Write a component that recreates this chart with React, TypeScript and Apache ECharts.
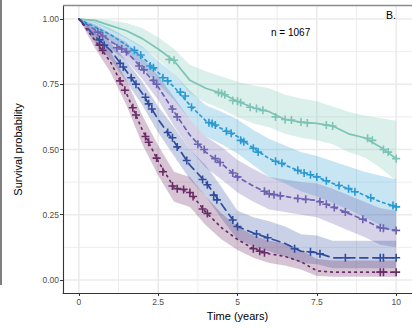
import React, { useEffect, useRef } from 'react';
import * as echarts from 'echarts';

const times = [0, 0.5, 1, 1.5, 2, 2.5, 3, 3.5, 4, 4.5, 5, 5.5, 6, 6.5, 7, 7.5, 8, 8.5, 9, 9.5, 10];

const survTeal = [1, 0.995, 0.975, 0.955, 0.925, 0.885, 0.84, 0.765, 0.735, 0.715, 0.685, 0.66, 0.645, 0.615, 0.605, 0.6, 0.59, 0.56, 0.545, 0.51, 0.465];
const lowerTeal = [1, 0.985, 0.955, 0.925, 0.89, 0.845, 0.79, 0.715, 0.68, 0.655, 0.625, 0.6, 0.585, 0.56, 0.545, 0.535, 0.52, 0.49, 0.47, 0.43, 0.38];
const upperTeal = [1, 1, 0.995, 0.985, 0.965, 0.93, 0.885, 0.825, 0.8, 0.78, 0.76, 0.745, 0.735, 0.71, 0.695, 0.685, 0.665, 0.645, 0.63, 0.62, 0.61];

const survLightBlue = [1, 0.97, 0.94, 0.9, 0.855, 0.795, 0.74, 0.67, 0.61, 0.58, 0.55, 0.505, 0.465, 0.44, 0.415, 0.395, 0.37, 0.35, 0.325, 0.3, 0.28];
const lowerLightBlue = [1, 0.955, 0.915, 0.865, 0.815, 0.75, 0.69, 0.615, 0.55, 0.52, 0.485, 0.44, 0.395, 0.37, 0.34, 0.32, 0.295, 0.27, 0.24, 0.21, 0.18];
const upperLightBlue = [1, 0.99, 0.965, 0.93, 0.895, 0.84, 0.79, 0.725, 0.67, 0.645, 0.615, 0.575, 0.54, 0.515, 0.49, 0.475, 0.455, 0.435, 0.415, 0.4, 0.385];

const survPurple = [1, 0.96, 0.915, 0.875, 0.81, 0.74, 0.645, 0.555, 0.49, 0.445, 0.395, 0.36, 0.33, 0.32, 0.31, 0.305, 0.28, 0.255, 0.23, 0.2, 0.19];
const lowerPurple = [1, 0.94, 0.885, 0.84, 0.77, 0.69, 0.59, 0.5, 0.43, 0.385, 0.335, 0.3, 0.27, 0.26, 0.25, 0.24, 0.215, 0.19, 0.165, 0.135, 0.125];
const upperPurple = [1, 0.98, 0.945, 0.91, 0.85, 0.785, 0.7, 0.615, 0.55, 0.51, 0.46, 0.425, 0.395, 0.385, 0.375, 0.37, 0.35, 0.325, 0.3, 0.275, 0.265];

const survDarkBlue = [1, 0.935, 0.88, 0.8, 0.715, 0.615, 0.53, 0.44, 0.375, 0.29, 0.205, 0.18, 0.16, 0.14, 0.11, 0.105, 0.085, 0.085, 0.085, 0.085, 0.085];
const lowerDarkBlue = [1, 0.91, 0.845, 0.76, 0.67, 0.565, 0.475, 0.385, 0.32, 0.235, 0.155, 0.13, 0.11, 0.09, 0.065, 0.06, 0.045, 0.045, 0.045, 0.045, 0.045];
const upperDarkBlue = [1, 0.96, 0.91, 0.84, 0.76, 0.665, 0.585, 0.5, 0.44, 0.355, 0.265, 0.24, 0.225, 0.205, 0.175, 0.17, 0.15, 0.15, 0.15, 0.15, 0.15];

const survPlum = [1, 0.92, 0.835, 0.715, 0.575, 0.455, 0.355, 0.335, 0.26, 0.2, 0.155, 0.12, 0.1, 0.09, 0.07, 0.035, 0.03, 0.03, 0.03, 0.03, 0.03];
const lowerPlum = [1, 0.89, 0.795, 0.67, 0.52, 0.4, 0.3, 0.28, 0.21, 0.155, 0.115, 0.085, 0.065, 0.055, 0.04, 0.015, 0.012, 0.012, 0.012, 0.012, 0.012];
const upperPlum = [1, 0.95, 0.875, 0.765, 0.63, 0.515, 0.415, 0.395, 0.32, 0.255, 0.205, 0.17, 0.15, 0.14, 0.115, 0.08, 0.075, 0.075, 0.075, 0.075, 0.075];

const censorTeal = [[2.85, 0.845], [3.0, 0.842], [4.4, 0.718], [4.5, 0.715], [4.6, 0.71], [4.85, 0.688], [5.0, 0.685], [5.1, 0.68], [5.4, 0.662], [5.6, 0.657], [5.8, 0.65], [6.2, 0.625], [6.5, 0.615], [6.7, 0.613], [7.0, 0.605], [7.2, 0.602], [7.8, 0.594], [8.0, 0.59], [9.1, 0.543], [9.25, 0.535], [9.6, 0.5], [9.75, 0.49], [10, 0.465]];
const censorLightBlue = [[1.75, 0.88], [1.95, 0.862], [2.25, 0.82], [2.35, 0.813], [2.65, 0.775], [2.8, 0.763], [3.2, 0.72], [3.35, 0.705], [3.55, 0.662], [4.1, 0.603], [4.2, 0.6], [4.3, 0.594], [4.65, 0.57], [4.8, 0.562], [5.1, 0.535], [5.2, 0.53], [5.5, 0.505], [5.65, 0.49], [6.2, 0.455], [6.4, 0.447], [6.9, 0.42], [7.1, 0.41], [7.3, 0.403], [7.5, 0.395], [7.8, 0.38], [8.2, 0.362], [8.5, 0.35], [8.7, 0.338], [9.2, 0.315], [9.9, 0.285], [10, 0.28]];
const censorPurple = [[0.6, 0.95], [0.75, 0.935], [1.2, 0.89], [1.35, 0.885], [1.5, 0.875], [1.9, 0.82], [2.05, 0.805], [2.35, 0.765], [2.45, 0.75], [2.95, 0.655], [3.1, 0.625], [3.75, 0.52], [3.95, 0.5], [4.3, 0.465], [4.45, 0.45], [4.85, 0.41], [5.0, 0.395], [5.85, 0.34], [6.0, 0.33], [6.15, 0.327], [6.35, 0.323], [6.9, 0.312], [7.15, 0.309], [7.6, 0.3], [7.8, 0.29], [8.05, 0.278], [8.4, 0.26], [8.95, 0.233], [9.5, 0.2], [9.6, 0.198], [10, 0.19]];
const censorDarkBlue = [[0.65, 0.92], [0.8, 0.9], [1.3, 0.83], [1.4, 0.816], [1.65, 0.775], [1.8, 0.75], [2.1, 0.7], [2.2, 0.675], [2.3, 0.655], [2.8, 0.565], [2.95, 0.545], [3.1, 0.51], [3.4, 0.458], [3.9, 0.385], [4.05, 0.365], [4.25, 0.325], [4.35, 0.307], [4.85, 0.23], [5.0, 0.205], [5.6, 0.176], [5.95, 0.162], [6.8, 0.12], [7.3, 0.108], [7.6, 0.1], [8.4, 0.085], [9.5, 0.085], [9.6, 0.085], [10, 0.085]];
const censorPlum = [[0.65, 0.9], [0.75, 0.88], [1.3, 0.763], [1.45, 0.727], [1.7, 0.66], [1.8, 0.632], [2.1, 0.55], [2.2, 0.528], [2.45, 0.467], [2.65, 0.415], [2.95, 0.36], [3.1, 0.35], [3.3, 0.347], [3.5, 0.335], [3.6, 0.32], [3.9, 0.272], [4.05, 0.255], [5.5, 0.12], [5.7, 0.11], [5.85, 0.104], [9.5, 0.03], [9.6, 0.03], [10, 0.03]];

const xTicks = [0, 2.5, 5, 7.5, 10];
const xTickLabels = ['0', '2.5', '5', '7.5', '10'];
const xMinor = [1.25, 3.75, 6.25, 8.75];
const yTicks = [0, 0.25, 0.5, 0.75, 1];
const yTickLabels = ['0.00', '0.25', '0.50', '0.75', '1.00'];
const yMinor = [0.125, 0.375, 0.625, 0.875];

const xTitle = 'Time (years)';
const yTitle = 'Survival probability';
const nLabel = 'n = 1067';
const panelLabel = 'B.';

const FONT = '"Liberation Sans", Arial, Helvetica, sans-serif';

const groups = [
  { key: 'teal', color: '#7cc4b6', band: 'rgba(124,196,182,0.28)', dash: 'solid' as any, surv: survTeal, lower: lowerTeal, upper: upperTeal, censor: censorTeal },
  { key: 'lightblue', color: '#2a9ad2', band: 'rgba(42,154,210,0.26)', dash: [2.5, 3.5], surv: survLightBlue, lower: lowerLightBlue, upper: upperLightBlue, censor: censorLightBlue },
  { key: 'purple', color: '#6b62b0', band: 'rgba(107,98,176,0.28)', dash: [4, 4], surv: survPurple, lower: lowerPurple, upper: upperPurple, censor: censorPurple },
  { key: 'darkblue', color: '#2f4c9f', band: 'rgba(47,76,159,0.26)', dash: [8, 5], surv: survDarkBlue, lower: lowerDarkBlue, upper: upperDarkBlue, censor: censorDarkBlue },
  { key: 'plum', color: '#6a2b67', band: 'rgba(106,43,103,0.28)', dash: [1.6, 4.4], surv: survPlum, lower: lowerPlum, upper: upperPlum, censor: censorPlum },
];

const PLUS = 'path://M4,0H6V4H10V6H6V10H4V6H0V4H4Z';

function labelFor(values: number[], labels: string[], v: number) {
  for (let i = 0; i < values.length; i++) {
    if (Math.abs(values[i] - v) < 1e-9) return labels[i];
  }
  return '';
}

export default function App() {
  const ref = useRef<HTMLDivElement>(null);

  useEffect(() => {
    if (!ref.current) return;
    const chart = echarts.init(ref.current, undefined, { renderer: 'svg' });

    const gridItems: any[] = [];
    xTicks.forEach((v) => gridItems.push({ dir: 'x', v, w: 1.6 }));
    xMinor.forEach((v) => gridItems.push({ dir: 'x', v, w: 0.9 }));
    yTicks.forEach((v) => gridItems.push({ dir: 'y', v, w: 1.6 }));
    yMinor.forEach((v) => gridItems.push({ dir: 'y', v, w: 0.9 }));

    const series: any[] = [
      {
        type: 'custom',
        silent: true,
        z: 0,
        data: gridItems.map((_, i) => i),
        renderItem: (params: any, api: any) => {
          const it = gridItems[params.dataIndex];
          const cs = params.coordSys;
          let x1, y1, x2, y2;
          if (it.dir === 'x') {
            const p = api.coord([it.v, 0]);
            x1 = p[0]; x2 = p[0]; y1 = cs.y; y2 = cs.y + cs.height;
          } else {
            const p = api.coord([0, it.v]);
            y1 = p[1]; y2 = p[1]; x1 = cs.x; x2 = cs.x + cs.width;
          }
          return { type: 'line', shape: { x1, y1, x2, y2 }, style: { stroke: '#ebebeb', lineWidth: it.w } };
        },
      },
    ];

    groups.forEach((g) => {
      series.push({
        type: 'custom',
        silent: true,
        z: 1,
        data: [0],
        renderItem: (params: any, api: any) => {
          const pts: number[][] = [];
          for (let i = 0; i < times.length; i++) pts.push(api.coord([times[i], g.upper[i]]));
          for (let i = times.length - 1; i >= 0; i--) pts.push(api.coord([times[i], g.lower[i]]));
          return { type: 'polygon', shape: { points: pts }, style: { fill: g.band, stroke: 'none' } };
        },
      });
    });

    groups.forEach((g) => {
      series.push({
        type: 'line',
        data: times.map((t, i) => [t, g.surv[i]]),
        symbol: 'none',
        silent: true,
        lineStyle: { color: g.color, width: 1.7, type: g.dash, cap: 'round' },
        z: 3,
      });
    });

    groups.forEach((g) => {
      series.push({
        type: 'scatter',
        data: g.censor,
        symbol: PLUS,
        symbolSize: 8,
        silent: true,
        itemStyle: { color: g.color, opacity: 1 },
        z: 4,
      });
    });

    chart.setOption({
      animation: false,
      backgroundColor: '#ffffff',
      grid: { left: 63, top: 6, width: 354, height: 287, containLabel: false },
      xAxis: {
        type: 'value',
        min: -0.5,
        max: 10.5,
        name: xTitle,
        nameLocation: 'middle',
        nameGap: 15,
        nameTextStyle: { fontFamily: FONT, fontSize: 11, color: '#000000' },
        axisLine: { show: true, onZero: false, lineStyle: { color: '#333333', width: 1.1 } },
        axisTick: { show: true, length: 3, customValues: xTicks, lineStyle: { color: '#333333', width: 1 } },
        axisLabel: {
          customValues: xTicks,
          formatter: (v: number) => labelFor(xTicks, xTickLabels, v),
          fontFamily: FONT,
          fontSize: 8.5,
          color: '#4d4d4d',
          margin: 4,
        },
        splitLine: { show: false },
      },
      yAxis: {
        type: 'value',
        min: -0.05,
        max: 1.05,
        name: yTitle,
        nameLocation: 'middle',
        nameGap: 40,
        nameTextStyle: { fontFamily: FONT, fontSize: 11, color: '#000000' },
        axisLine: { show: true, onZero: false, lineStyle: { color: '#333333', width: 1.1 } },
        axisTick: { show: true, length: 3, customValues: yTicks, lineStyle: { color: '#333333', width: 1 } },
        axisLabel: {
          customValues: yTicks,
          formatter: (v: number) => labelFor(yTicks, yTickLabels, v),
          fontFamily: FONT,
          fontSize: 8.5,
          color: '#4d4d4d',
          margin: 4,
        },
        splitLine: { show: false },
      },
      graphic: [
        { type: 'line', shape: { x1: 63, y1: 5.5, x2: 412, y2: 5.5 }, style: { stroke: '#8a8a8a', lineWidth: 1.5 }, z: 10 },
        { type: 'line', shape: { x1: 1, y1: 0, x2: 1, y2: 285 }, style: { stroke: '#555555', lineWidth: 1.5 }, z: 10 },
        { type: 'text', left: 271, top: 27, style: { text: nLabel, fontFamily: FONT, fontSize: 10, fill: '#000000' }, z: 10 },
        { type: 'text', left: 386, top: 9, style: { text: panelLabel, fontFamily: FONT, fontSize: 10.5, fill: '#000000' }, z: 10 },
      ],
      series,
    });

    return () => {
      chart.dispose();
    };
  }, []);

  return <div ref={ref} style={{ position: 'fixed', left: 0, top: 0, width: 412, height: 330 }} />;
}
